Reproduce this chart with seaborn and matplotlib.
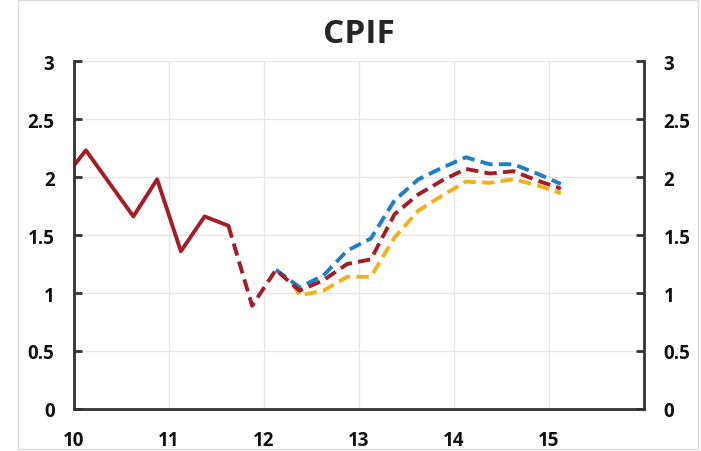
import pandas as pd
import seaborn as sb
import matplotlib.pyplot as plt
from matplotlib.patches import Rectangle

# outcome (solid) and the start of the forecast (dashed), same red series
hist_x = [10.0, 10.125, 10.625, 10.875, 11.125, 11.375, 11.625]
hist_y = [2.10, 2.23, 1.66, 1.98, 1.36, 1.66, 1.58]

bridge_x = [11.625, 11.875, 12.125, 12.375]
bridge_y = [1.58, 0.89, 1.20, 1.03]

# forecast paths
fc_x = [12.125, 12.375, 12.625, 12.875, 13.125, 13.375, 13.625,
        13.875, 14.125, 14.375, 14.625, 14.875, 15.125]
red_fc = [1.20, 1.02, 1.11, 1.25, 1.29, 1.68, 1.85, 1.97, 2.07, 2.03, 2.05, 1.97, 1.90]
blue_fc = [1.20, 1.05, 1.15, 1.365, 1.47, 1.80, 1.98, 2.08, 2.17, 2.11, 2.11, 2.03, 1.94]
yellow_fc = [1.08, 0.98, 1.02, 1.14, 1.14, 1.48, 1.71, 1.84, 1.96, 1.95, 1.98, 1.93, 1.86]

x_ticks = [10, 11, 12, 13, 14, 15]
y_ticks = [0, 0.5, 1, 1.5, 2, 2.5, 3]
y_labels = ["0", "0.5", "1", "1.5", "2", "2.5", "3"]

RED = "#A21D25"
BLUE = "#1E7FC8"
YELLOW = "#F2B11C"

sb.set_style("white")
plt.rcParams['font.family'] = ['Open Sans', 'DejaVu Sans']

fig = plt.figure(figsize=(7.01, 4.52), dpi=100)
ax = fig.add_axes([74 / 701, 1 - 410 / 452, 570 / 701, 348 / 452])

dash = (0, (3.2, 1.6))
lw = 2.8

# yellow path starts a little after the red peak (hidden under red before that)
sb.lineplot(x=[12.3] + fc_x[1:], y=yellow_fc[:1] + yellow_fc[1:], ax=ax,
            color=YELLOW, lw=lw, linestyle=dash)
sb.lineplot(x=fc_x, y=blue_fc, ax=ax, color=BLUE, lw=lw, linestyle=dash)
sb.lineplot(x=bridge_x[:-1] + fc_x[1:], y=bridge_y[:-1] + red_fc[1:], ax=ax,
            color=RED, lw=lw, linestyle=dash)
sb.lineplot(x=hist_x, y=hist_y, ax=ax, color=RED, lw=lw)

ax.set_xlim(10, 16)
ax.set_ylim(0, 3)
ax.set_xticks(x_ticks + [16])
ax.set_xticklabels([str(t) for t in x_ticks] + [""])
ax.set_yticks(y_ticks)
ax.set_yticklabels(y_labels)
ax.grid(True, color="#E6E6E6", lw=1)
ax.set_axisbelow(True)

for side in ["left", "right", "bottom"]:
    ax.spines[side].set_visible(True)
    ax.spines[side].set_color("#333333")
    ax.spines[side].set_linewidth(2)
ax.spines["top"].set_visible(False)

ax.tick_params(axis="both", direction="in", length=6, width=2, color="#333333",
               labelsize=13.5)
ax.tick_params(axis="y", right=True, labelright=True, left=True, pad=14)
ax.tick_params(axis="x", pad=15)
for lab in ax.get_xticklabels() + ax.get_yticklabels():
    lab.set_fontweight("bold")
    lab.set_color("#111111")

ax.set_title("CPIF", fontsize=24, fontweight="bold", pad=14)

# thin frame round the picture
fig.patches.append(Rectangle((18 / 701, 2 / 452), 680 / 701, 449 / 452,
                             transform=fig.transFigure, fill=False,
                             edgecolor="#D9D9D9", lw=1))

fig.savefig("out.png", dpi=100)
